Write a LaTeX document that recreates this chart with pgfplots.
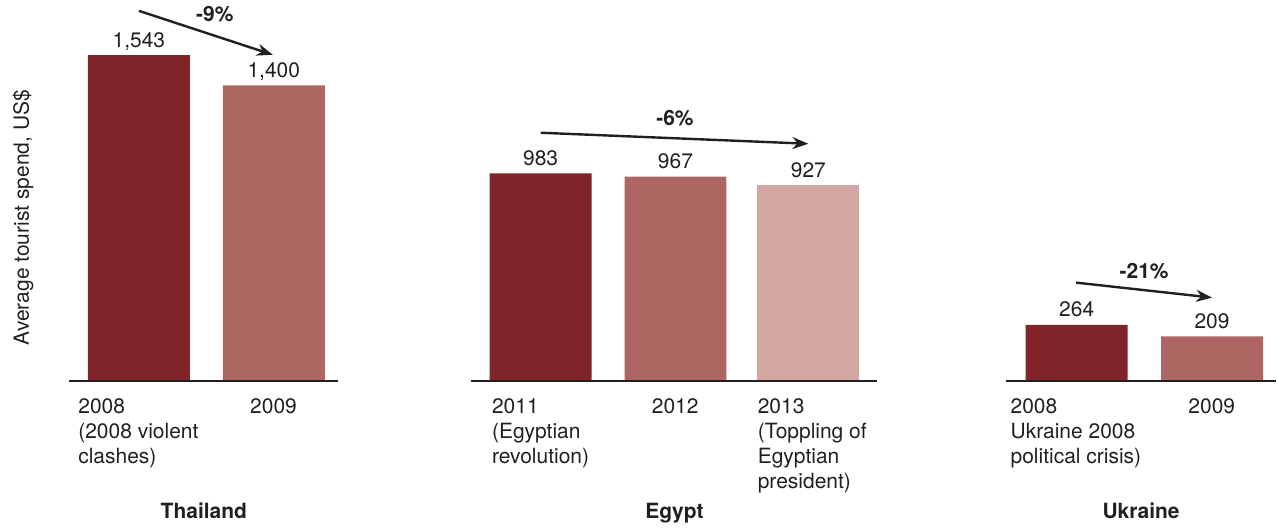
\documentclass[border=0pt]{standalone}
\usepackage{pgfplots}
\pgfplotsset{compat=1.18}
\usepackage{fontspec}
\setmainfont{TeX Gyre Heros}
\usetikzlibrary{arrows.meta}
\definecolor{c1}{HTML}{80242A}
\definecolor{c2}{HTML}{AD6662}
\definecolor{c3}{HTML}{D3A6A1}
\definecolor{tx}{HTML}{231F20}
\begin{document}
\begin{tikzpicture}[font=\fontsize{10.5}{12.5}\selectfont, text=tx]
\begin{axis}[
 scale only axis, width=638.5pt, height=263.5pt,
 xmin=0, xmax=1277, ymin=-691.9, ymax=1805.7,
 clip=false, enlargelimits=false,
 axis x line=middle, axis y line=none,
 x axis line style={draw=none,-},
 ytick=\empty,
 xtick={78,250,492,652,758,1011,1189},
 xticklabels={{2008\\(2008 violent\\clashes)},2009,{2011\\(Egyptian\\revolution)},2012,{2013\\(Toppling of\\Egyptian\\president)},{2008\\Ukraine 2008\\political crisis)},2009},
 xticklabel style={anchor=north west, align=left, inner sep=0pt, yshift=-9pt, font=\fontsize{10.5}{12.5}\selectfont, text=tx},
 major tick length=0pt,
 ybar, bar width=102, bar shift=0pt,
 nodes near coords,
 nodes near coords style={anchor=base, yshift=4pt, font=\fontsize{10.5}{12.5}\selectfont, text=tx},
 /pgf/number format/1000 sep={,},
 /pgf/number format/assume math mode=true,
]
\addplot[fill=c1, draw=none] coordinates {(139,1543) (541,983) (1077.5,264)};
\addplot[fill=c2, draw=none] coordinates {(274,1400) (676,967) (1213,209)};
\addplot[fill=c3, draw=none] coordinates {(809,927)};
\draw[tx, line width=1pt] (axis cs:69,0) -- (axis cs:338,0);
\draw[tx, line width=1pt] (axis cs:471,0) -- (axis cs:878,0);
\draw[tx, line width=1pt] (axis cs:1007,0) -- (axis cs:1277,0);
\draw[tx, line width=1.2pt, -{Stealth[length=8pt,width=6pt]}] (axis cs:139,1753.6) -- (axis cs:273,1545);
\draw[tx, line width=1.2pt, -{Stealth[length=8pt,width=6pt]}] (axis cs:541,1175.4) -- (axis cs:809,1123.2);
\draw[tx, line width=1.2pt, -{Stealth[length=8pt,width=6pt]}] (axis cs:1077,464.5) -- (axis cs:1213,393.4);
\node[anchor=base, font=\fontsize{10.5}{12.5}\selectfont\bfseries] at (axis cs:215,1701.4) {-9\%};
\node[anchor=base, font=\fontsize{10.5}{12.5}\selectfont\bfseries] at (axis cs:675.5,1208.5) {-6\%};
\node[anchor=base, font=\fontsize{10.5}{12.5}\selectfont\bfseries] at (axis cs:1145,483.4) {-21\%};
\node[anchor=base, font=\fontsize{10.5}{12.5}\selectfont\bfseries] at (axis cs:204,-654) {Thailand};
\node[anchor=base, font=\fontsize{10.5}{12.5}\selectfont\bfseries] at (axis cs:675,-654) {Egypt};
\node[anchor=base, font=\fontsize{10.5}{12.5}\selectfont\bfseries] at (axis cs:1142,-654) {Ukraine};
\node[rotate=90, anchor=base] at (axis cs:29,772.5) {Average tourist spend, US\$};
\end{axis}
\end{tikzpicture}
\end{document}
